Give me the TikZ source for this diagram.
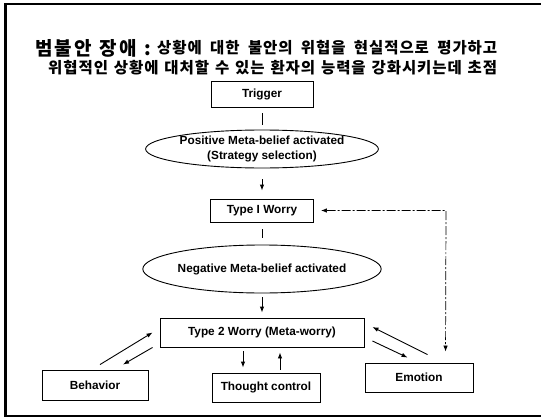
\documentclass[tikz,border=0pt]{standalone}
\usepackage{fontspec}
\setmainfont{Liberation Sans}
\newfontfamily\krwide{Noto Sans CJK KR}[LetterSpace=6]
\newfontfamily\krtitle{Noto Sans CJK KR}[LetterSpace=12]
\usetikzlibrary{shapes.geometric,arrows.meta}

\tikzset{
  box/.style={draw, line width=0.9pt, rectangle, inner sep=0pt, font=\bfseries\fontsize{11.8}{15}\selectfont},
  oval/.style={draw, line width=0.9pt, ellipse, inner sep=0pt, align=center, font=\bfseries\fontsize{11.8}{15}\selectfont},
  link/.style={line width=0.9pt},
  arr/.style={line width=0.9pt, -{Latex[length=6pt,width=4.5pt]}},
  feedback/.style={line width=0.7pt, dash pattern=on 9pt off 2pt on 2pt off 2pt,
                   {Latex[length=6pt,width=4.5pt]}-{Latex[length=6pt,width=4.5pt]}}
}

\begin{document}
\begin{tikzpicture}[x=1pt,y=-1pt]
\useasboundingbox (0,0) rectangle (541,420);

% outer frame (open on the right)
\draw[line width=1.8pt] (541,4) -- (5,4) -- (5,416) -- (541,416);
\draw[line width=3pt] (5,4) -- (5,416);

% heading
\node[anchor=base west, inner sep=0pt] (head) at (35,56)
  {\krtitle\bfseries\fontsize{19}{22}\selectfont\makebox[116pt][s]{범불안 장애 :}};
\node[anchor=base west, inner sep=0pt] (line1) at (157,54)
  {\krwide\bfseries\fontsize{15.5}{18}\selectfont\makebox[340pt][s]{상황에 대한 불안의 위협을 현실적으로 평가하고}};
\node[anchor=base west, inner sep=0pt] (line2) at (48,74)
  {\krwide\bfseries\fontsize{15.5}{18}\selectfont\makebox[449pt][s]{위협적인 상황에 대처할 수 있는 환자의 능력을 강화시키는데 초점}};

% nodes
\node[box, minimum width=102pt, minimum height=26pt] (trig) at (262,94) {Trigger};
\node[oval, minimum width=204pt, minimum height=38pt] (pos) at (262,149)
  {Positive Meta-belief activated\\(Strategy selection)};
\node[box, minimum width=103pt, minimum height=23pt] (type1) at (262,210.5) {Type I Worry};
\node[oval, minimum width=196pt, minimum height=48pt] (neg) at (262,269) {Negative Meta-belief activated};
\node[box, minimum width=204pt, minimum height=29pt] (type2) at (262,332.5) {Type 2 Worry (Meta-worry)};
\node[box, minimum width=106pt, minimum height=30pt] (behav) at (95,385) {Behavior};
\node[box, minimum width=108pt, minimum height=29pt] (thought) at (266,387.5) {Thought control};
\node[box, minimum width=108pt, minimum height=29pt] (emo) at (419,377.5) {Emotion};

% main chain
\draw[link, shorten <=6pt, shorten >=5pt] (trig) -- (pos);
\draw[arr, shorten <=11pt, shorten >=8pt] (pos) -- (type1);
\draw[link, shorten <=7pt, shorten >=7pt] (type1) -- (neg);
\draw[arr, shorten <=4pt, shorten >=5pt] (neg) -- (type2);

% Type 2 worry and behaviour
\draw[arr] ([xshift=5pt,yshift=5pt]behav.north) -- ([xshift=-7pt]type2.west);
\draw[arr] ([xshift=-7pt]type2.south west) -- ([xshift=28pt,yshift=5pt]behav.north);

% Type 2 worry and thought control
\draw[arr] ([xshift=-19pt,yshift=-4pt]type2.south) -- ([xshift=-23pt,yshift=5pt]thought.north);
\draw[arr] ([xshift=14pt,yshift=3pt]thought.north) -- ([xshift=18pt,yshift=-5pt]type2.south);

% Type 2 worry and emotion
\draw[arr] ([xshift=8pt,yshift=-8.5pt]type2.east) -- ([xshift=43pt,yshift=5pt]emo.north west);
\draw[arr] ([xshift=63pt,yshift=8pt]emo.north west) -- ([xshift=8pt,yshift=5.5pt]type2.east);

% feedback from emotion to type 1 worry
\coordinate (corner) at (446,210.5);
\draw[feedback] ([xshift=7pt]type1.east) -- (corner) -- ([xshift=81pt,yshift=11pt]emo.north west);
\end{tikzpicture}
\end{document}
